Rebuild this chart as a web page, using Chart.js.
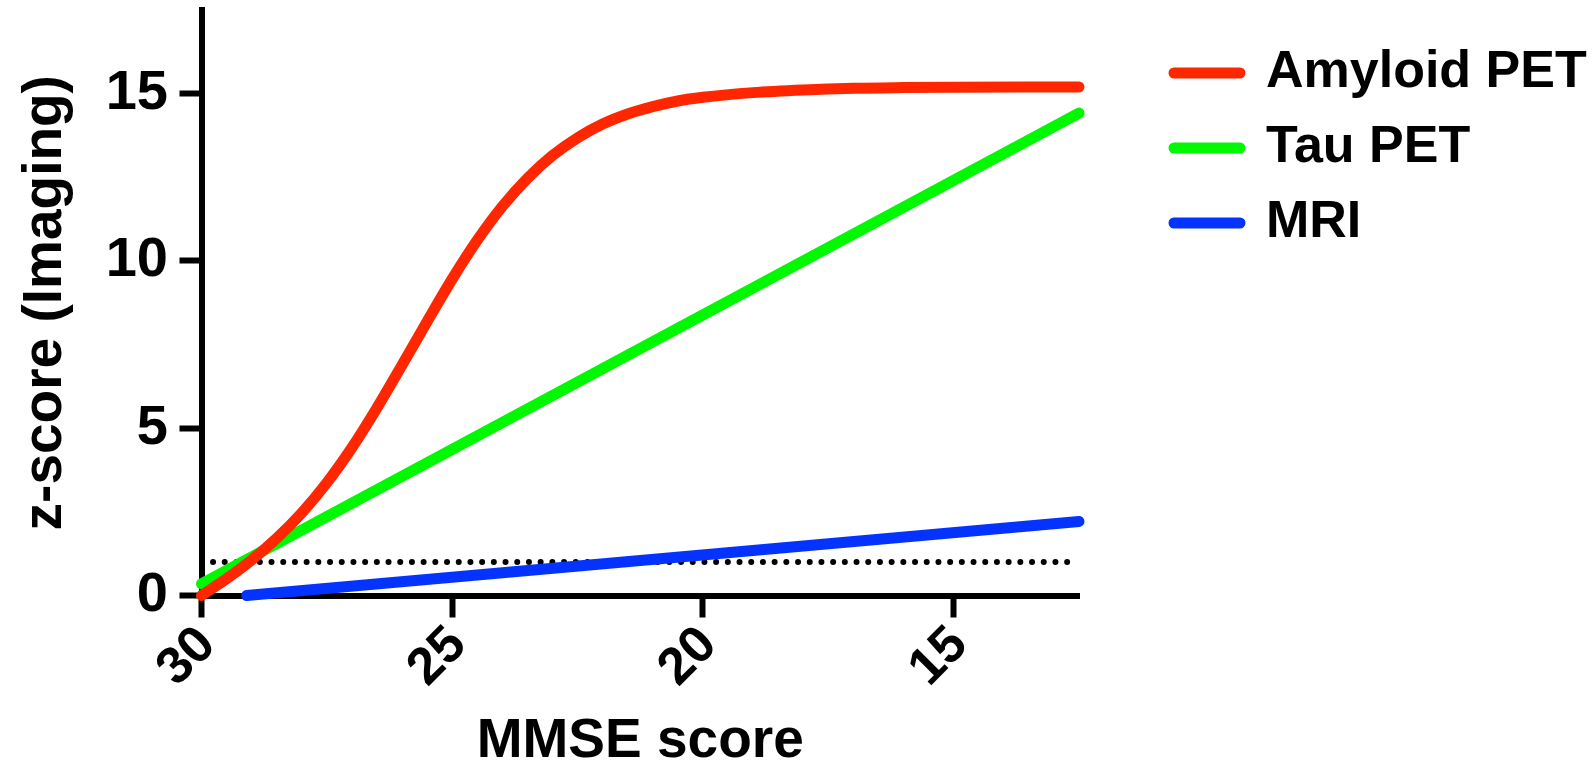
<!DOCTYPE html>
<html>
<head>
<meta charset="utf-8">
<script src="https://cdn.jsdelivr.net/npm/chart.js@4.4.1/dist/chart.umd.min.js"></script>
<style>
html,body{margin:0;padding:0;background:#ffffff;}
#wrap{width:1596px;height:769px;position:relative;}
</style>
</head>
<body>
<div id="wrap"><canvas id="c" width="1596" height="769"></canvas></div>
<script>
// ---- data ----
const seriesNames = ['Amyloid PET', 'Tau PET', 'MRI'];
const seriesColors = ['#FF2600', '#00F900', '#0433FF'];

const amyloidX = [30, 29.5, 29, 28.5, 28, 27.5, 27, 26.5, 26, 25.5, 25, 24.5, 24, 23.5, 23, 22.5, 22, 21.5, 21, 20.5, 20, 19, 18, 17, 16, 15, 12.5];
const amyloidY = [0, 0.5, 1.06, 1.71, 2.47, 3.37, 4.42, 5.61, 6.89, 8.19, 9.46, 10.62, 11.63, 12.47, 13.15, 13.68, 14.09, 14.39, 14.61, 14.78, 14.89, 15.03, 15.11, 15.16, 15.18, 15.19, 15.2];

const tauX = [30, 12.5];
const tauY = [0.35, 14.42];

const mriX = [29.1, 12.5];
const mriY = [0, 2.21];

const thresholdX = [29.77, 12.68];
const thresholdY = [1, 1];

const xTickValues = [30, 25, 20, 15];
const yTickValues = [0, 5, 10, 15];

const xTitle = 'MMSE score';
const yTitle = 'z-score (Imaging)';

// ---- helpers ----
const FAMILY = '"Liberation Sans", Arial, Helvetica, sans-serif';
const pts = (xs, ys) => xs.map((x, i) => ({x: x, y: ys[i]}));

const LEGEND_FONT = 52;
const LEGEND_BOX = 66;
const LEGEND_PAD = 23;
const LEG_X = 1174;   // left of first legend sample
const LEG_Y = 47;     // top of first legend item
const PLOT_RIGHT = 1079;

const mctx = document.createElement('canvas').getContext('2d');
mctx.font = 'bold ' + LEGEND_FONT + 'px ' + FAMILY;
const maxText = Math.max.apply(null, seriesNames.map(n => mctx.measureText(n).width));
const legendW = LEGEND_PAD + LEGEND_BOX + LEGEND_FONT / 2 + maxText + 10;
const padRight = Math.max(0, 1596 - PLOT_RIGHT - legendW);

const legendShift = {
  id: 'legendShift',
  afterLayout(chart) {
    const lg = chart.legend;
    if (!lg) return;
    const pad = lg.options.labels.padding;
    const dx = LEG_X - (lg.left + pad);
    lg.left += dx; lg.right += dx;
    const dy = LEG_Y - (lg.top + pad);
    lg.top += dy; lg.bottom += dy;
    lg.right = Math.max(lg.right, chart.width);
    lg.bottom = Math.max(lg.bottom, chart.height);
  }
};

const lineDs = (i, data) => ({
  label: seriesNames[i],
  data: data,
  borderColor: seriesColors[i],
  backgroundColor: seriesColors[i],
  borderWidth: 11,
  borderCapStyle: 'round',
  borderJoinStyle: 'round',
  pointRadius: 0,
  pointHoverRadius: 0,
  fill: false,
  clip: false
});

const amy = lineDs(0, pts(amyloidX, amyloidY));
amy.cubicInterpolationMode = 'monotone';
const tau = lineDs(1, pts(tauX, tauY));
const mri = lineDs(2, pts(mriX, mriY));
const thr = {
  label: 'threshold',
  data: pts(thresholdX, thresholdY),
  borderColor: '#000000',
  backgroundColor: '#000000',
  borderWidth: 6,
  borderCapStyle: 'round',
  borderDash: [0, 11.7],
  pointRadius: 0,
  fill: false,
  clip: false
};

new Chart(document.getElementById('c'), {
  type: 'line',
  data: { datasets: [amy, tau, mri, thr] },
  plugins: [legendShift],
  options: {
    responsive: false,
    animation: false,
    events: [],
    layout: { padding: { top: 10, left: 0, right: padRight, bottom: 0 } },
    plugins: {
      tooltip: { enabled: false },
      legend: {
        position: 'right',
        align: 'start',
        maxWidth: legendW + 20,
        labels: {
          filter: (item) => item.datasetIndex < 3,
          boxWidth: LEGEND_BOX,
          boxHeight: 0,
          padding: LEGEND_PAD,
          color: '#000000',
          font: { family: FAMILY, size: LEGEND_FONT, weight: 'bold' }
        }
      }
    },
    scales: {
      x: {
        type: 'linear',
        reverse: true,
        min: 12.5,
        max: 30,
        afterBuildTicks: (s) => { s.ticks = xTickValues.map(v => ({value: v})); },
        afterFit: (s) => { s.height = 173.5; s.paddingLeft = 0; s.paddingRight = 0; s.paddingTop = 0; s.paddingBottom = 0; },
        ticks: {
          minRotation: 45, maxRotation: 45, padding: -3, labelOffset: 6,
          color: '#000000',
          font: { family: FAMILY, size: 52, weight: 'bold' }
        },
        grid: { drawOnChartArea: false, drawTicks: true, tickLength: 22, tickWidth: 6, tickColor: '#000000' },
        border: { display: true, color: '#000000', width: 6 },
        title: {
          display: true, text: xTitle, color: '#000000',
          font: { family: FAMILY, size: 55, weight: 'bold', lineHeight: 1 },
          padding: { top: 0, bottom: 0 }
        }
      },
      y: {
        type: 'linear',
        min: 0,
        max: 17.5,
        afterBuildTicks: (s) => { s.ticks = yTickValues.map(v => ({value: v})); },
        afterFit: (s) => { s.width = 201.5; s.paddingTop = 0; s.paddingBottom = 0; },
        ticks: {
          padding: 11.5,
          color: '#000000',
          font: { family: FAMILY, size: 56, weight: 'bold' }
        },
        grid: { drawOnChartArea: false, drawTicks: true, tickLength: 22, tickWidth: 6, tickColor: '#000000' },
        border: { display: true, color: '#000000', width: 6 },
        title: {
          display: true, text: yTitle, color: '#000000',
          font: { family: FAMILY, size: 55, weight: 'bold', lineHeight: 1.2 },
          padding: { top: 13, bottom: 0 }
        }
      }
    }
  }
});
</script>
</body>
</html>
